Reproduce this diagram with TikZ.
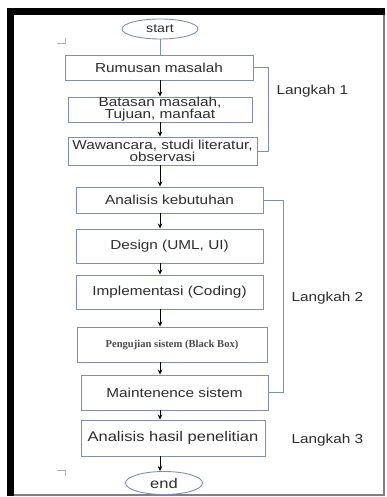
\documentclass[tikz,border=0pt]{standalone}
\usepackage{fontspec}
\setmainfont[FakeStretch=1.18]{Liberation Sans}
\newfontfamily\boxserif{Liberation Serif}
\usetikzlibrary{shapes.geometric,arrows.meta}
\definecolor{boxline}{RGB}{125,143,178}
\definecolor{txt}{RGB}{45,45,45}
\tikzset{
  stepbox/.style={draw=boxline, line width=0.9pt, rectangle, align=center, inner sep=0pt,
    text=txt, font=\fontsize{13}{12}\selectfont},
  term/.style={draw=boxline, line width=0.9pt, ellipse, inner sep=0pt, text=txt},
  flow/.style={draw=black, line width=0.8pt, -{Stealth[length=5pt,width=4.5pt]}},
  group/.style={draw=boxline, line width=0.9pt},
  tag/.style={anchor=west, text=txt, font=\fontsize{13}{12}\selectfont}
}
\begin{document}
\begin{tikzpicture}[x=1pt,y=-1pt]
\useasboundingbox (0,0) rectangle (387,497);
%bingkai
\fill[black] (7,8) rectangle (385,15);
\fill[black] (7,8) rectangle (14,496);
\draw[gray, line width=1.2pt] (384,15) -- (384,495) -- (14,495);
\draw[gray!60, line width=0.8pt] (57,43) -- (65,43) -- (65,38);
\draw[gray!60, line width=0.8pt] (57,470) -- (65,470) -- (65,476);
%langkah 1
\node[term, minimum width=76, minimum height=20, font=\fontsize{12}{12}\selectfont] (start) at (160,29) {start};
\node[stepbox, minimum width=188, minimum height=25] (rumusan) at (159,67.5) {Rumusan masalah};
\node[stepbox, minimum width=184, minimum height=25] (batasan) at (160,109.5) {Batasan masalah,\\Tujuan, manfaat};
\node[stepbox, minimum width=189, minimum height=28] (wawancara) at (162.5,151) {Wawancara, studi literatur,\\observasi};
%langkah 2
\node[stepbox, minimum width=187, minimum height=26] (analisis) at (169.5,200) {Analisis kebutuhan};
\node[stepbox, minimum width=187, minimum height=34] (design) at (169.5,246) {Design (UML, UI)};
\node[stepbox, minimum width=187, minimum height=34] (implementasi) at (169.5,292) {Implementasi (Coding)};
\node[stepbox, minimum width=190, minimum height=35, font=\boxserif\bfseries\fontsize{10.6}{12}\selectfont, text=txt!85] (pengujian) at (172,344.5) {Pengujian sistem (Black Box)};
\node[stepbox, minimum width=187, minimum height=35] (maintenence) at (174.5,392.5) {Maintenence sistem};
%langkah 3
\node[stepbox, minimum width=184, minimum height=36, font=\fontsize{14}{12}\selectfont] (hasil) at (173,438) {Analisis hasil penelitian};
\node[term, minimum width=77, minimum height=23, font=\fontsize{14}{12}\selectfont] (end) at (164,483) {end};
%panah
\draw[group] (start) -- (rumusan.north -| start);
\draw[flow] (rumusan.south -| start) -- (batasan.north -| start);
\draw[flow] (batasan.south -| start) -- (wawancara.north -| start);
\draw[flow] (wawancara.south -| start) -- (analisis.north -| start);
\draw[flow] (analisis.south -| start) -- (design.north -| start);
\draw[flow] (design.south -| start) -- (implementasi.north -| start);
\draw[flow] (implementasi.south -| start) -- (pengujian.north -| start);
\draw[flow] (pengujian.south -| start) -- (maintenence.north -| start);
\draw[flow] (maintenence.south -| start) -- (hasil.north -| start);
\draw[flow] (hasil.south -| start) -- (end.north -| start);
%kurung langkah
\draw[group] (rumusan.east) -- ++(15,0) |- (wawancara.east);
\draw[group] (analisis.east) -- ++(20,0) |- (maintenence.east);
\node[tag] (langkah1) at (273,91) {Langkah 1};
\node[tag] (langkah2) at (288,298) {Langkah 2};
\node[tag] (langkah3) at (288,440) {Langkah 3};
\end{tikzpicture}
\end{document}
